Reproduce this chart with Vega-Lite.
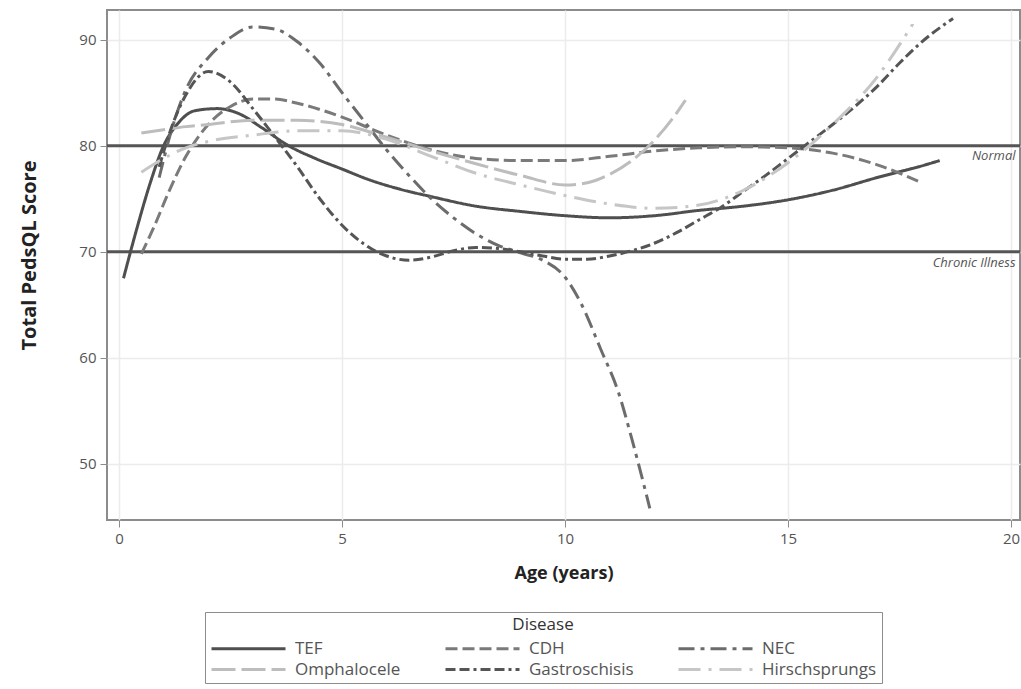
{
  "$schema": "https://vega.github.io/schema/vega-lite/v6.json",
  "autosize": {"type": "none"},
  "padding": {"left": 107, "top": 10, "right": 1, "bottom": 169},
  "width": 913,
  "height": 510,
  "background": "white",
  "config": {
    "font": "Open Sans",
    "view": {"stroke": "#8c8c8c", "strokeWidth": 2},
    "axis": {"domain": false, "gridColor": "#ececec", "gridWidth": 1.5, "tickColor": "#8c8c8c", "tickSize": 7, "labelFontSize": 15, "labelColor": "#555555", "titleFontSize": 18, "titleColor": "#222222", "titleFontWeight": "bold", "labelPadding": 4},
    "legend": {"orient": "none", "legendX": 98, "legendY": 602, "columns": 3, "titleAnchor": "middle",
               "strokeColor": "#8c8c8c", "padding": 5, "symbolType": "M-1,0H6.4", "symbolSize": 400,
               "symbolStrokeWidth": 3, "labelFontSize": 17, "labelColor": "#555555", "titleFontSize": 17,
               "titleFontWeight": "normal", "titleColor": "#333333", "columnPadding": 38, "rowPadding": 1,
               "labelOffset": 62, "titlePadding": 3, "fillColor": "white"}
  },
  "datasets": {
    "curves": [
      {"disease": "TEF", "age": 0.1, "score": 67.5},
      {"disease": "TEF", "age": 0.4, "score": 72.2},
      {"disease": "TEF", "age": 0.7, "score": 76.5},
      {"disease": "TEF", "age": 1.0, "score": 80.0},
      {"disease": "TEF", "age": 1.3, "score": 82.0},
      {"disease": "TEF", "age": 1.7, "score": 83.3},
      {"disease": "TEF", "age": 2.2, "score": 83.5},
      {"disease": "TEF", "age": 2.7, "score": 83.0},
      {"disease": "TEF", "age": 3.2, "score": 81.7},
      {"disease": "TEF", "age": 3.8, "score": 80.0},
      {"disease": "TEF", "age": 4.4, "score": 78.8},
      {"disease": "TEF", "age": 5.0, "score": 77.8},
      {"disease": "TEF", "age": 5.6, "score": 76.8},
      {"disease": "TEF", "age": 6.3, "score": 75.9},
      {"disease": "TEF", "age": 7.0, "score": 75.2},
      {"disease": "TEF", "age": 8.0, "score": 74.3},
      {"disease": "TEF", "age": 9.0, "score": 73.8},
      {"disease": "TEF", "age": 10.0, "score": 73.4},
      {"disease": "TEF", "age": 11.0, "score": 73.2},
      {"disease": "TEF", "age": 12.0, "score": 73.4},
      {"disease": "TEF", "age": 13.0, "score": 73.9},
      {"disease": "TEF", "age": 14.0, "score": 74.3},
      {"disease": "TEF", "age": 15.0, "score": 74.9},
      {"disease": "TEF", "age": 16.0, "score": 75.8},
      {"disease": "TEF", "age": 17.0, "score": 77.0},
      {"disease": "TEF", "age": 18.0, "score": 78.1},
      {"disease": "TEF", "age": 18.4, "score": 78.6},

      {"disease": "CDH", "age": 0.5, "score": 69.8},
      {"disease": "CDH", "age": 0.8, "score": 72.5},
      {"disease": "CDH", "age": 1.1, "score": 75.5},
      {"disease": "CDH", "age": 1.5, "score": 79.0},
      {"disease": "CDH", "age": 2.0, "score": 82.0},
      {"disease": "CDH", "age": 2.5, "score": 83.7},
      {"disease": "CDH", "age": 3.0, "score": 84.4},
      {"disease": "CDH", "age": 3.5, "score": 84.4},
      {"disease": "CDH", "age": 4.0, "score": 84.0},
      {"disease": "CDH", "age": 5.0, "score": 82.7},
      {"disease": "CDH", "age": 6.0, "score": 81.0},
      {"disease": "CDH", "age": 7.0, "score": 79.6},
      {"disease": "CDH", "age": 8.0, "score": 78.8},
      {"disease": "CDH", "age": 9.0, "score": 78.6},
      {"disease": "CDH", "age": 10.0, "score": 78.6},
      {"disease": "CDH", "age": 11.0, "score": 79.0},
      {"disease": "CDH", "age": 12.0, "score": 79.5},
      {"disease": "CDH", "age": 13.0, "score": 79.8},
      {"disease": "CDH", "age": 14.0, "score": 79.9},
      {"disease": "CDH", "age": 15.0, "score": 79.8},
      {"disease": "CDH", "age": 16.0, "score": 79.3},
      {"disease": "CDH", "age": 17.0, "score": 78.2},
      {"disease": "CDH", "age": 18.0, "score": 76.5},

      {"disease": "NEC", "age": 0.9, "score": 77.0},
      {"disease": "NEC", "age": 1.2, "score": 81.8},
      {"disease": "NEC", "age": 1.5, "score": 85.3},
      {"disease": "NEC", "age": 2.0, "score": 88.3},
      {"disease": "NEC", "age": 2.5, "score": 90.2},
      {"disease": "NEC", "age": 3.0, "score": 91.2},
      {"disease": "NEC", "age": 3.5, "score": 91.0},
      {"disease": "NEC", "age": 4.0, "score": 89.8},
      {"disease": "NEC", "age": 4.5, "score": 87.8},
      {"disease": "NEC", "age": 5.0, "score": 85.0},
      {"disease": "NEC", "age": 5.5, "score": 82.3},
      {"disease": "NEC", "age": 6.0, "score": 79.6},
      {"disease": "NEC", "age": 6.5, "score": 77.2},
      {"disease": "NEC", "age": 7.0, "score": 75.0},
      {"disease": "NEC", "age": 7.5, "score": 73.2},
      {"disease": "NEC", "age": 8.0, "score": 71.7},
      {"disease": "NEC", "age": 8.5, "score": 70.6},
      {"disease": "NEC", "age": 9.0, "score": 69.9},
      {"disease": "NEC", "age": 9.5, "score": 69.2},
      {"disease": "NEC", "age": 10.0, "score": 67.6},
      {"disease": "NEC", "age": 10.35, "score": 65.2},
      {"disease": "NEC", "age": 10.8, "score": 60.8},
      {"disease": "NEC", "age": 11.2, "score": 56.7},
      {"disease": "NEC", "age": 11.5, "score": 52.3},
      {"disease": "NEC", "age": 11.9, "score": 45.8},

      {"disease": "Omphalocele", "age": 0.5, "score": 81.2},
      {"disease": "Omphalocele", "age": 1.0, "score": 81.5},
      {"disease": "Omphalocele", "age": 1.5, "score": 81.8},
      {"disease": "Omphalocele", "age": 2.0, "score": 82.0},
      {"disease": "Omphalocele", "age": 3.0, "score": 82.4},
      {"disease": "Omphalocele", "age": 4.0, "score": 82.4},
      {"disease": "Omphalocele", "age": 5.0, "score": 82.0},
      {"disease": "Omphalocele", "age": 6.0, "score": 80.8},
      {"disease": "Omphalocele", "age": 7.0, "score": 79.5},
      {"disease": "Omphalocele", "age": 8.0, "score": 78.3},
      {"disease": "Omphalocele", "age": 9.0, "score": 77.2},
      {"disease": "Omphalocele", "age": 10.0, "score": 76.3},
      {"disease": "Omphalocele", "age": 10.5, "score": 76.5},
      {"disease": "Omphalocele", "age": 11.0, "score": 77.3},
      {"disease": "Omphalocele", "age": 11.5, "score": 78.6},
      {"disease": "Omphalocele", "age": 12.0, "score": 80.5},
      {"disease": "Omphalocele", "age": 12.4, "score": 82.5},
      {"disease": "Omphalocele", "age": 12.7, "score": 84.3},

      {"disease": "Gastroschisis", "age": 0.9, "score": 78.0},
      {"disease": "Gastroschisis", "age": 1.2, "score": 82.0},
      {"disease": "Gastroschisis", "age": 1.5, "score": 84.8},
      {"disease": "Gastroschisis", "age": 2.0, "score": 87.0},
      {"disease": "Gastroschisis", "age": 2.5, "score": 86.0},
      {"disease": "Gastroschisis", "age": 3.0, "score": 83.5},
      {"disease": "Gastroschisis", "age": 3.5, "score": 80.8},
      {"disease": "Gastroschisis", "age": 4.0, "score": 78.0},
      {"disease": "Gastroschisis", "age": 4.5, "score": 75.0},
      {"disease": "Gastroschisis", "age": 5.0, "score": 72.5},
      {"disease": "Gastroschisis", "age": 5.5, "score": 70.7},
      {"disease": "Gastroschisis", "age": 6.0, "score": 69.6},
      {"disease": "Gastroschisis", "age": 6.5, "score": 69.2},
      {"disease": "Gastroschisis", "age": 7.0, "score": 69.5},
      {"disease": "Gastroschisis", "age": 7.5, "score": 70.1},
      {"disease": "Gastroschisis", "age": 8.0, "score": 70.4},
      {"disease": "Gastroschisis", "age": 8.5, "score": 70.3},
      {"disease": "Gastroschisis", "age": 9.0, "score": 70.0},
      {"disease": "Gastroschisis", "age": 9.5, "score": 69.6},
      {"disease": "Gastroschisis", "age": 10.0, "score": 69.3},
      {"disease": "Gastroschisis", "age": 10.5, "score": 69.3},
      {"disease": "Gastroschisis", "age": 11.0, "score": 69.6},
      {"disease": "Gastroschisis", "age": 11.5, "score": 70.1},
      {"disease": "Gastroschisis", "age": 12.0, "score": 70.8},
      {"disease": "Gastroschisis", "age": 12.5, "score": 71.8},
      {"disease": "Gastroschisis", "age": 13.0, "score": 73.0},
      {"disease": "Gastroschisis", "age": 13.5, "score": 74.2},
      {"disease": "Gastroschisis", "age": 14.0, "score": 75.7},
      {"disease": "Gastroschisis", "age": 14.5, "score": 77.2},
      {"disease": "Gastroschisis", "age": 15.0, "score": 78.8},
      {"disease": "Gastroschisis", "age": 15.5, "score": 80.4},
      {"disease": "Gastroschisis", "age": 16.0, "score": 82.0},
      {"disease": "Gastroschisis", "age": 16.5, "score": 83.7},
      {"disease": "Gastroschisis", "age": 17.0, "score": 85.6},
      {"disease": "Gastroschisis", "age": 17.5, "score": 87.8},
      {"disease": "Gastroschisis", "age": 18.0, "score": 89.8},
      {"disease": "Gastroschisis", "age": 18.7, "score": 92.0},

      {"disease": "Hirschsprungs", "age": 0.5, "score": 77.5},
      {"disease": "Hirschsprungs", "age": 1.0, "score": 78.8},
      {"disease": "Hirschsprungs", "age": 1.5, "score": 79.8},
      {"disease": "Hirschsprungs", "age": 2.0, "score": 80.4},
      {"disease": "Hirschsprungs", "age": 3.0, "score": 81.0},
      {"disease": "Hirschsprungs", "age": 4.0, "score": 81.4},
      {"disease": "Hirschsprungs", "age": 5.0, "score": 81.4},
      {"disease": "Hirschsprungs", "age": 6.0, "score": 80.6},
      {"disease": "Hirschsprungs", "age": 7.0, "score": 79.0},
      {"disease": "Hirschsprungs", "age": 8.0, "score": 77.4},
      {"disease": "Hirschsprungs", "age": 9.0, "score": 76.3},
      {"disease": "Hirschsprungs", "age": 10.0, "score": 75.3},
      {"disease": "Hirschsprungs", "age": 11.0, "score": 74.5},
      {"disease": "Hirschsprungs", "age": 12.0, "score": 74.1},
      {"disease": "Hirschsprungs", "age": 13.0, "score": 74.4},
      {"disease": "Hirschsprungs", "age": 14.0, "score": 75.8},
      {"disease": "Hirschsprungs", "age": 15.0, "score": 78.4},
      {"disease": "Hirschsprungs", "age": 16.0, "score": 82.0},
      {"disease": "Hirschsprungs", "age": 17.0, "score": 86.5},
      {"disease": "Hirschsprungs", "age": 17.8, "score": 91.5}
    ],
    "refs": [{"ref": 80}, {"ref": 70}],
    "labels": [
      {"label": "Normal", "x": 20.1, "y": 79.0},
      {"label": "Chronic Illness", "x": 20.1, "y": 68.9}
    ]
  },
  "layer": [
    {
      "data": {"name": "refs"},
      "mark": {"type": "rule", "color": "#555555", "strokeWidth": 3},
      "encoding": {
        "y": {"field": "ref", "type": "quantitative", "scale": {"domain": [44.7, 92.8], "nice": false, "zero": false}}
      }
    },
    {
      "data": {"name": "curves"},
      "mark": {"type": "line", "strokeWidth": 3, "interpolate": "monotone", "clip": true},
      "encoding": {
        "x": {"field": "age", "type": "quantitative", "title": "Age (years)",
              "scale": {"domain": [-0.27, 20.2], "nice": false, "zero": false},
              "axis": {"values": [0, 5, 10, 15, 20], "titleY": 44}},
        "y": {"field": "score", "type": "quantitative", "title": "Total PedsQL Score",
              "scale": {"domain": [44.7, 92.8], "nice": false, "zero": false},
              "axis": {"values": [50, 60, 70, 80, 90], "titleX": -68, "titleY": 245, "titleFontSize": 20}},
        "color": {"field": "disease", "type": "nominal", "title": "Disease",
                  "scale": {"domain": ["TEF", "Omphalocele", "CDH", "Gastroschisis", "NEC", "Hirschsprungs"],
                            "range": ["#4f4f4f", "#bdbdbd", "#7a7a7a", "#555555", "#6c6c6c", "#c6c6c6"]}},
        "strokeDash": {"field": "disease", "type": "nominal", "title": "Disease",
                       "scale": {"domain": ["TEF", "Omphalocele", "CDH", "Gastroschisis", "NEC", "Hirschsprungs"],
                                 "range": [[1, 0], [24, 6], [12, 5], [10, 4, 10, 4, 3, 4], [16, 6, 4, 6], [22, 8, 3, 8]]}}
      }
    },
    {
      "data": {"name": "labels"},
      "mark": {"type": "text", "align": "right", "baseline": "middle", "fontStyle": "italic", "fontSize": 13, "color": "#555555"},
      "encoding": {
        "x": {"field": "x", "type": "quantitative"},
        "y": {"field": "y", "type": "quantitative"},
        "text": {"field": "label"}
      }
    }
  ]
}
